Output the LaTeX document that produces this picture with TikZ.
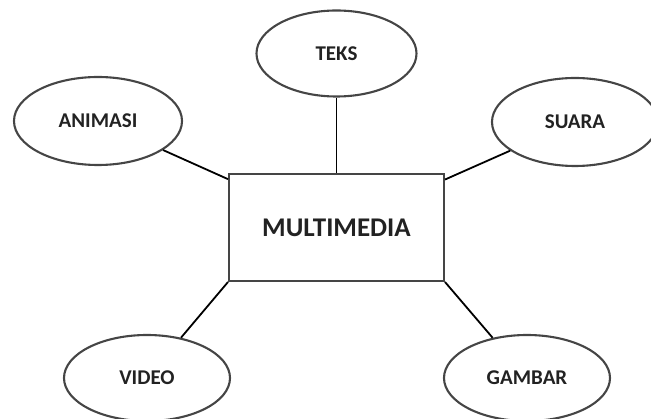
\documentclass[tikz,border=0pt]{standalone}
\usepackage{fontspec}
\setmainfont{Carlito}
\usetikzlibrary{shapes.geometric}
\definecolor{rimgray}{HTML}{454545}
\definecolor{inkgray}{HTML}{222222}
\begin{document}
\begin{tikzpicture}[x=1pt,y=-1pt,
        media/.style={ellipse, draw=rimgray, line width=2.1pt, minimum width=166pt, minimum height=86pt, inner sep=0pt, font=\fontsize{21}{24}\selectfont\bfseries, text=inkgray},
        hub/.style={rectangle, draw=rimgray, line width=2pt, minimum width=215pt, minimum height=107pt, inner sep=0pt, font=\fontsize{27}{30}\selectfont\bfseries, text=inkgray},
        link/.style={line width=1.8pt, black}]
            \useasboundingbox (0,0) rectangle (651,419);
            \node [hub] (multimedia) at (336.5,227.5) {MULTIMEDIA};
            \node [media, minimum width=160pt] (teks) at (336.5,53.5) {TEKS};
            \node [media, minimum width=168pt, minimum height=88pt] (animasi) at (98,121) {ANIMASI};
            \node [media, minimum height=88pt] (suara) at (575,122) {SUARA};
            \node [media] (video) at (147,378) {VIDEO};
            \node [media] (gambar) at (527,378) {GAMBAR};
            \draw [link] (multimedia) -- (teks);
            \draw [link] (multimedia) -- (animasi);
            \draw [link] (multimedia) -- (suara);
            \draw [link] (multimedia.south west) -- (video);
            \draw [link] (multimedia.south east) -- (gambar);
\end{tikzpicture}
\end{document}
